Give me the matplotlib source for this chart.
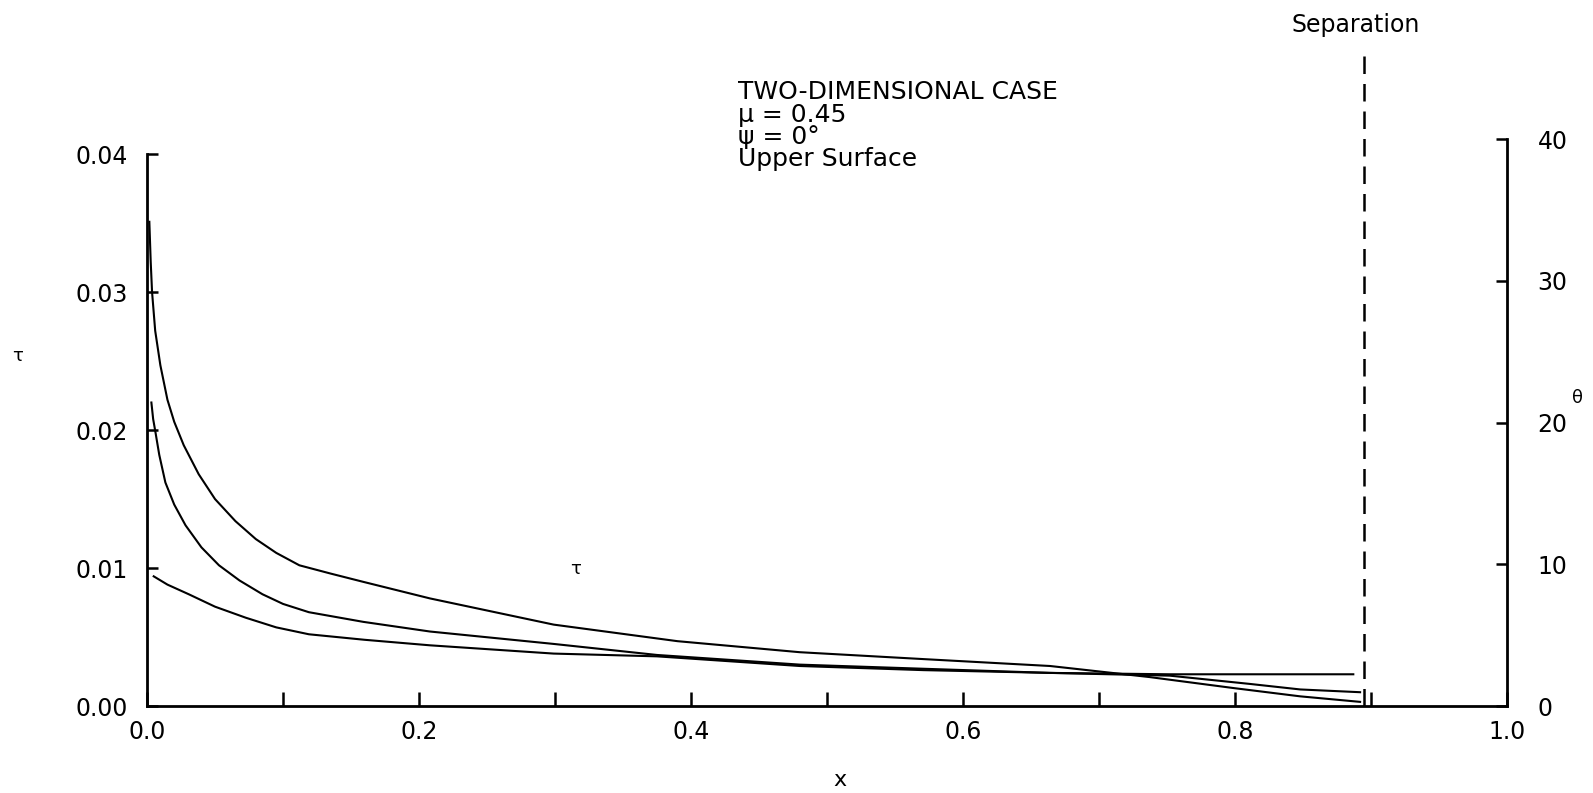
import numpy as np
import matplotlib
matplotlib.use("Agg")
import matplotlib.pyplot as plt

plt.rcParams['font.family'] = ['DejaVu Sans']

# shear stress tau along the chord, three curves
x_top = [0.0017, 0.0027, 0.0037, 0.0060, 0.0098, 0.015, 0.020, 0.027, 0.038, 0.050,
         0.065, 0.080, 0.095, 0.112, 0.135, 0.159, 0.208, 0.299, 0.390, 0.480,
         0.571, 0.664, 0.737, 0.799, 0.848, 0.892]
tau_top = [0.0351, 0.0322, 0.0300, 0.0272, 0.0247, 0.0222, 0.0206, 0.0189, 0.0168, 0.0150,
           0.0134, 0.0121, 0.0111, 0.0102, 0.0096, 0.0090, 0.0078, 0.0059, 0.0047, 0.0039,
           0.0034, 0.0029, 0.0021, 0.0013, 0.0007, 0.0003]

x_mid = [0.0032, 0.0045, 0.0061, 0.0090, 0.0135, 0.020, 0.0283, 0.040, 0.0529, 0.068,
         0.0849, 0.100, 0.119, 0.159, 0.208, 0.299, 0.375, 0.480, 0.571, 0.664,
         0.752, 0.811, 0.848, 0.892]
tau_mid = [0.0220, 0.0208, 0.0199, 0.0182, 0.0162, 0.0146, 0.0131, 0.0115, 0.0102, 0.0091,
           0.0081, 0.0074, 0.0068, 0.0061, 0.0054, 0.0045, 0.0037, 0.0030, 0.0027, 0.0024,
           0.0022, 0.0016, 0.0012, 0.0010]

x_low = [0.0049, 0.015, 0.0307, 0.050, 0.0726, 0.095, 0.119, 0.160, 0.208, 0.299,
         0.375, 0.480, 0.571, 0.664, 0.752, 0.887]
tau_low = [0.0094, 0.0088, 0.0081, 0.0072, 0.0064, 0.0057, 0.0052, 0.0048, 0.0044, 0.0038,
           0.0036, 0.0029, 0.0026, 0.0024, 0.0023, 0.0023]

x_sep = 0.895

x_ticks = [0.0, 0.1, 0.2, 0.3, 0.4, 0.5, 0.6, 0.7, 0.8, 0.9, 1.0]
x_labels = ['0.0', '', '0.2', '', '0.4', '', '0.6', '', '0.8', '', '1.0']
tau_ticks = [0.0, 0.01, 0.02, 0.03, 0.04]
tau_labels = ['0.00', '0.01', '0.02', '0.03', '0.04']
theta_ticks = [0, 10, 20, 30, 40]

fig = plt.figure(figsize=(15.93, 7.93), dpi=100)
ax = fig.add_axes([0.0923, 0.1097, 0.8537, 0.715])

for xs, ts in [(x_top, tau_top), (x_mid, tau_mid), (x_low, tau_low)]:
    ax.plot(xs, ts, color='black', lw=1.5)

ax.plot([x_sep, x_sep], [0, 0.0476], color='black', lw=1.8, ls=(0, (7, 4)), clip_on=False)

ax.set_xlim(0, 1.0)
ax.set_ylim(0, 0.0411)
ax.spines['top'].set_visible(False)
ax.spines['right'].set_visible(False)
ax.spines['left'].set_bounds(0, 0.04)
for s in ['left', 'bottom']:
    ax.spines[s].set_linewidth(2.0)

ax.set_xticks(x_ticks)
ax.set_xticklabels(x_labels)
ax.set_yticks(tau_ticks)
ax.set_yticklabels(tau_labels)
ax.tick_params(axis='x', direction='in', length=10, width=1.8, labelsize=17, pad=10)
ax.tick_params(axis='y', direction='in', length=8, width=1.8, labelsize=17, pad=14)

ax2 = ax.twinx()
ax2.set_ylim(0, 40)
ax2.set_yticks(theta_ticks)
ax2.spines['top'].set_visible(False)
ax2.spines['left'].set_visible(False)
ax2.spines['bottom'].set_visible(False)
ax2.spines['right'].set_linewidth(2.0)
ax2.tick_params(axis='y', direction='in', length=8, width=1.8, labelsize=17, pad=22)

ax.text(0.315, 0.0099, 'τ', fontsize=13, ha='center', va='center')

fig.text(0.4633, 0.884, 'TWO-DIMENSIONAL CASE', fontsize=18, ha='left', va='center')
fig.text(0.4633, 0.855, 'μ = 0.45', fontsize=18, ha='left', va='center')
fig.text(0.4633, 0.827, 'ψ = 0°', fontsize=18, ha='left', va='center')
fig.text(0.4633, 0.799, 'Upper Surface', fontsize=18, ha='left', va='center')

fig.text(0.851, 0.968, 'Separation', fontsize=17, ha='center', va='center')
fig.text(0.011, 0.551, 'τ', fontsize=13, ha='center', va='center')
fig.text(0.990, 0.498, 'θ', fontsize=13, ha='center', va='center')
fig.text(0.527, 0.017, 'x', fontsize=16, ha='center', va='center')

fig.savefig('out.png', dpi=100)
